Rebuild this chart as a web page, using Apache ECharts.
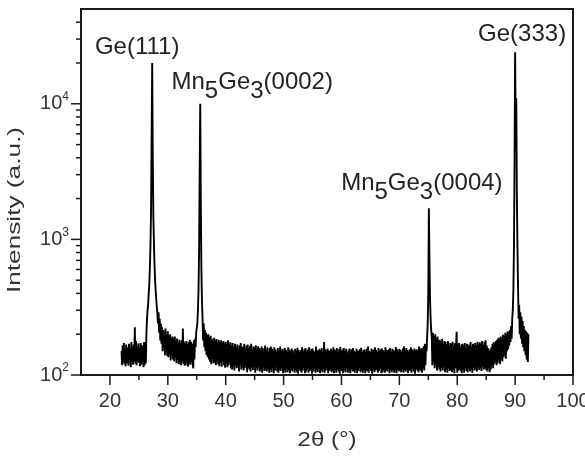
<!DOCTYPE html>
<html>
<head>
<meta charset="utf-8">
<script src="https://cdn.jsdelivr.net/npm/echarts@6/dist/echarts.min.js"></script>
<style>html,body{margin:0;padding:0;background:#fff}#c{width:585px;height:458px}</style>
</head>
<body>
<div id="c"></div>
<script>
// ---- data ----
const scanStart = 22.0;   // first 2θ of the scan (°)
const scanStep = 0.1;     // scan step (°)
const intensity = [
  150,118,165,125,172,120,158,116,168,130,
  122,160,117,170,128,155,114,175,124,162,
  119,168,126,225,121,178,118,160,127,171,
  123,158,116,172,119,166,125,161,114,175,
  118,175,122,200,260,300,330,400,470,620,
  900,1600,5600,20000,4000,1500,950,650,500,420,
  360,320,330,240,290,205,260,180,240,170,
  225,150,215,160,205,140,220,148,198,138,
  210,135,195,145,200,128,188,140,192,130,
  185,126,192,135,178,122,186,130,175,120,
  182,124,172,118,180,126,220,121,176,117,
  170,118,178,125,168,115,174,122,182,119,
  176,126,170,120,112,180,130,185,160,205,
  210,240,300,420,800,3000,10000,1800,600,350,
  260,180,240,160,215,150,205,140,198,135,
  200,130,190,125,195,120,185,132,178,122,
  188,125,180,118,184,128,176,120,182,116,
  175,122,180,115,172,126,178,118,170,113,
  176,120,170,114,180,118,168,123,174,112,
  165,110,172,116,160,108,170,118,162,112,
  168,114,158,106,166,118,172,110,160,115,
  162,108,170,112,156,117,165,105,168,113,
  158,110,164,106,170,114,155,109,162,116,
  160,104,166,112,154,108,163,115,158,106,
  155,110,162,104,158,113,150,107,165,110,
  152,106,160,112,148,104,158,110,162,105,
  156,112,150,103,160,108,154,114,148,106,
  158,104,152,110,162,107,150,112,156,103,
  150,108,158,104,153,111,147,105,160,109,
  154,103,149,110,157,106,152,112,146,104,
  156,109,150,105,159,102,153,110,148,107,
  152,104,160,108,149,112,155,103,158,106,
  148,110,154,104,160,107,150,111,156,102,
  157,106,151,112,147,104,162,108,153,105,
  150,111,156,103,152,109,158,105,149,110,
  175,104,155,108,150,112,157,103,152,107,
  149,110,156,105,151,108,160,103,154,109,
  152,104,158,111,147,106,155,102,161,108,
  150,107,154,103,158,110,149,105,156,112,
  146,104,152,109,157,103,150,111,155,106,
  158,108,151,104,147,110,156,103,152,107,
  150,112,155,105,159,108,148,104,153,110,
  154,103,149,109,156,106,162,104,150,111,
  148,107,157,102,151,110,154,105,160,108,
  152,110,148,104,158,107,151,112,155,103,
  157,105,152,109,149,104,160,108,153,106,
  150,111,155,103,158,109,147,105,156,110,
  153,104,150,108,161,103,155,110,149,106,
  156,109,152,105,148,111,157,104,162,108,
  151,106,158,110,153,103,149,109,155,107,
  160,104,154,112,150,106,157,102,152,111,
  155,108,150,105,162,110,154,107,158,104,
  156,112,163,108,170,118,160,150,190,240,
  420,1700,700,360,260,215,190,118,205,125,
  195,112,200,120,188,108,192,115,180,110,
  182,106,176,112,185,108,170,114,178,105,
  175,110,168,104,178,112,165,107,172,109,
  170,105,176,110,164,103,172,112,168,208,
  104,165,108,172,110,160,106,168,103,170,
  110,166,104,172,112,158,107,170,105,164,
  112,168,106,175,110,162,104,170,113,166,
  108,172,111,165,106,176,114,168,109,174,
  112,170,107,178,115,166,110,175,113,180,
  109,165,106,158,112,150,105,155,110,160,
  118,170,112,175,120,172,125,178,118,182,
  122,188,128,185,120,192,132,190,126,198,
  135,195,140,205,132,200,150,210,155,208,
  165,215,175,230,185,260,300,420,900,3500,
  24000,6000,11000,2200,900,460,260,330,200,290,
  185,270,170,250,160,230,150,215,140,210,
  130,205,125,200
];
const peakLabels = ['Ge(111)', 'Mn5Ge3(0002)', 'Mn5Ge3(0004)', 'Ge(333)'];
const peakAngles = [27.3, 35.6, 75.1, 90.0];
const peakHeights = [20000, 10000, 1700, 24000];
const xMajorTicks = [20, 30, 40, 50, 60, 70, 80, 90, 100];
const xMinorTicks = [25, 35, 45, 55, 65, 75, 85, 95];
const yMajorTicks = [100, 1000, 10000];
const yMinorTicks = [200, 300, 400, 500, 600, 700, 800, 900,
  2000, 3000, 4000, 5000, 6000, 7000, 8000, 9000, 20000, 30000, 40000];
const xMin = 15, xMax = 100, yMin = 100, yMax = 50000;

// ---- chart ----
const FONT = "'Liberation Sans', Arial, Helvetica, sans-serif";
const INK = '#1a1a1a';
const scan = intensity.map((v, i) => [+(scanStart + i * scanStep).toFixed(1), v]);

function richLabel(s) {
  const m = s.match(/^Mn5Ge3(.*)$/);
  if (m) return '{m|Mn}{s|5}{m|Ge}{s|3}{m|' + m[1] + '}';
  return '{m|' + s + '}';
}
// pixel offsets of each annotation relative to its peak top
const labelOffsets = [[-15, -28], [52, -33], [-7, -37], [7, -29.5]];

function tickSeries(values, axis, len) {
  return {
    type: 'custom', silent: true, clip: false, z: 5,
    data: values.map(v => axis === 'x' ? [v, yMin] : [xMin, v]),
    renderItem: function (params, api) {
      const cs = params.coordSys;
      const p = api.coord([api.value(0), api.value(1)]);
      let shape;
      if (axis === 'x') {
        const y0 = cs.y + cs.height;
        shape = { x1: p[0], y1: y0, x2: p[0], y2: y0 + len };
      } else {
        shape = { x1: cs.x - len, y1: p[1], x2: cs.x, y2: p[1] };
      }
      return { type: 'line', shape: shape, style: { stroke: INK, lineWidth: 1.5 } };
    }
  };
}

const chart = echarts.init(document.getElementById('c'), null, { renderer: 'canvas' });
chart.setOption({
  animation: false,
  backgroundColor: '#fff',
  grid: { left: 81, right: 12, top: 9, bottom: 83, outerBoundsMode: 'none', containLabel: false,
          show: true, borderColor: INK, borderWidth: 2, backgroundColor: 'transparent' },
  xAxis: {
    type: 'value', min: xMin, max: xMax, interval: 5,
    axisLine: { lineStyle: { color: INK, width: 2 } },
    axisTick: { show: false },
    splitLine: { show: false },
    axisLabel: {
      margin: 16, color: '#333', fontSize: 20, fontFamily: FONT, hideOverlap: false,
      formatter: v => (v % 10 === 0 ? String(v) : '')
    }
  },
  yAxis: {
    type: 'log', logBase: 10, min: yMin, max: yMax,
    axisLine: { lineStyle: { color: INK, width: 2 } },
    axisTick: { show: false },
    splitLine: { show: false },
    minorTick: { show: false },
    axisLabel: {
      margin: 12, color: '#333', fontFamily: FONT,
      formatter: function (v) {
        const l = Math.log10(v);
        const e = Math.round(l);
        if (Math.abs(l - e) > 1e-6) return '';
        return '{b|10}{p|' + e + '}';
      },
      rich: {
        b: { fontSize: 20, lineHeight: 20, fontFamily: FONT, color: '#333', verticalAlign: 'bottom' },
        p: { fontSize: 12, lineHeight: 12, fontFamily: FONT, color: '#333', verticalAlign: 'bottom', padding: [0, 0, 11, 0] }
      }
    }
  },
  graphic: [
    {
      type: 'text', x: 15, y: 210, rotation: Math.PI / 2, scaleX: 1.38, z: 10,
      style: { text: 'Intensity (a.u.)', font: '19px ' + FONT, fill: '#333', align: 'center', verticalAlign: 'middle' }
    },
    {
      type: 'text', x: 327, y: 440, scaleX: 1.2, z: 10,
      style: { text: '2θ (°)', font: '20px ' + FONT, fill: '#333', align: 'center', verticalAlign: 'middle' }
    }
  ],
  series: [
    {
      type: 'line', data: scan, showSymbol: false, symbol: 'none',
      lineStyle: { color: '#000', width: 1.9 }, silent: true, z: 3
    },
    tickSeries(xMajorTicks, 'x', 10),
    tickSeries(xMinorTicks, 'x', 5),
    tickSeries(yMajorTicks, 'y', 10),
    tickSeries(yMinorTicks, 'y', 5),
    {
      type: 'custom', silent: true, clip: false, z: 6,
      data: peakAngles.map((a, i) => [a, peakHeights[i], i]),
      renderItem: function (params, api) {
        const i = api.value(2);
        const p = api.coord([api.value(0), api.value(1)]);
        const off = labelOffsets[i];
        return {
          type: 'text', x: p[0] + off[0], y: p[1] + off[1],
          style: {
            text: richLabel(peakLabels[i]), align: 'center', verticalAlign: 'top', fill: '#222',
            font: '24px ' + FONT,
            rich: {
              m: { fontSize: 24, lineHeight: 24, fontFamily: FONT, fill: '#222', verticalAlign: 'top' },
              s: { fontSize: 24, lineHeight: 24, fontFamily: FONT, fill: '#222', verticalAlign: 'top', padding: [9, 0, 0, 0] }
            }
          }
        };
      }
    }
  ]
});
</script>
</body>
</html>
